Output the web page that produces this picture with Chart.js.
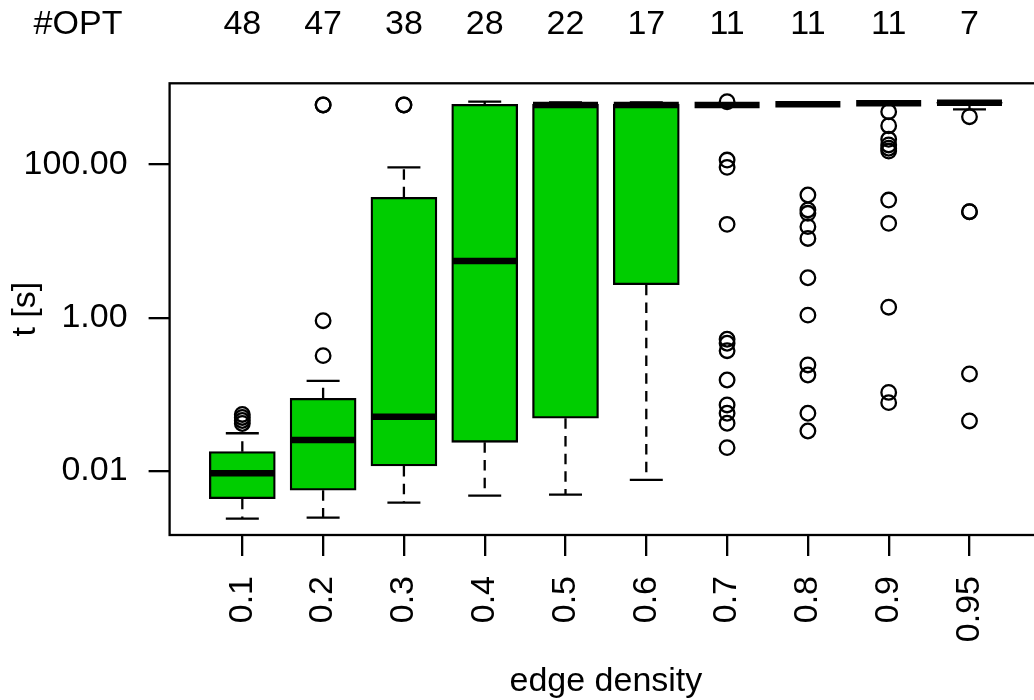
<!DOCTYPE html>
<html><head><meta charset="utf-8">
<script src="https://cdn.jsdelivr.net/npm/chart.js@4.4.0/dist/chart.umd.min.js"></script>
<style>
html,body{margin:0;padding:0;background:#fff;overflow:hidden;width:1034px;height:700px}
#wrap{position:absolute;left:0;top:0;width:1100px;height:700px}
</style>
</head><body><div id="wrap"><canvas id="c" width="1100" height="700"></canvas></div>
<script>
const categories = ['0.1','0.2','0.3','0.4','0.5','0.6','0.7','0.8','0.9','0.95'];
const optCounts = [48,47,38,28,22,17,11,11,11,7];
const lowerWhisker = [0.0024, 0.00247, 0.00387, 0.00478, 0.00492, 0.00766, 595, 607, 625, 521];
const q1 =           [0.00436, 0.00562, 0.01165, 0.0237, 0.0488, 2.69, 595, 607, 625, 630];
const median =       [0.00936, 0.0254, 0.0512, 5.49, 595, 595, 595, 607, 625, 637];
const q3 =           [0.0179, 0.0889, 37.1, 607, 610, 610, 595, 607, 625, 640];
const upperWhisker = [0.0311, 0.1496, 91.4, 656, 640, 640, 595, 607, 625, 645];
const outliers = [
  [0.0547, 0.050, 0.0456, 0.0417],
  [595, 595, 0.914, 0.32],
  [595, 595],
  [],
  [],
  [],
  [656, 113.8, 91.4, 16.5, 0.523, 0.464, 0.371, 0.154, 0.0728, 0.0567, 0.042, 0.0202],
  [39.8, 25.4, 23.0, 15.4, 10.8, 3.32, 1.08, 0.242, 0.179, 0.0567, 0.0333],
  [485, 319, 212, 179, 162, 149, 34.2, 17.0, 1.37, 0.106, 0.078],
  [418, 24.1, 24.1, 0.1845, 0.045]
];
const yTickValues = [0.01, 1, 100];

const FONT = '"Liberation Sans", Arial, Helvetica, sans-serif';
const LW = 2.3;
const pos = categories.map((_, i) => i + 1);
const TARGET_RIGHT = 1042.2;

const boxData = pos.map((x, i) => ({x, y: [q1[i], q3[i]]}));
const medianData = pos.map((x, i) => ({x, y: median[i]}));
const stapleData = [];
pos.forEach((x, i) => { stapleData.push({x, y: upperWhisker[i]}); stapleData.push({x, y: lowerWhisker[i]}); });
const whiskerData = [];
pos.forEach((x, i) => {
  whiskerData.push({x, y: q3[i]}, {x, y: upperWhisker[i]}, {x, y: null});
  whiskerData.push({x, y: q1[i]}, {x, y: lowerWhisker[i]}, {x, y: null});
});
const outlierData = [];
outliers.forEach((arr, i) => arr.forEach(v => outlierData.push({x: pos[i], y: v})));

const deco = {
  id: 'deco',
  afterDraw(chart) {
    const {ctx, chartArea: a, scales: {x}} = chart;
    ctx.save();
    ctx.strokeStyle = '#000'; ctx.lineWidth = LW;
    ctx.strokeRect(a.left, a.top, a.right - a.left, a.bottom - a.top);
    ctx.fillStyle = '#000';
    ctx.font = '34px ' + FONT;
    ctx.textAlign = 'center'; ctx.textBaseline = 'alphabetic';
    ctx.fillText('#OPT', 78, 33.5);
    optCounts.forEach((n, i) => ctx.fillText(String(n), x.getPixelForValue(pos[i]), 33.5));
    ctx.fillText('edge density', (a.left + a.right) / 2, 691);
    ctx.translate(35, (a.top + a.bottom) / 2);
    ctx.rotate(-Math.PI / 2);
    ctx.fillText('t [s]', 0, 0);
    ctx.restore();
  }
};

const chart = new Chart(document.getElementById('c'), {
  type: 'bar',
  data: {
    datasets: [
      {type: 'scatter', data: medianData, pointStyle: 'line', pointRadius: 32.5, pointHoverRadius: 32.5,
       borderColor: '#000', pointBorderWidth: 6.5, borderWidth: 6.5, order: 0},
      {type: 'scatter', data: stapleData, pointStyle: 'line', pointRadius: 16.5, pointHoverRadius: 16.5,
       borderColor: '#000', pointBorderWidth: LW, borderWidth: LW, order: 1},
      {type: 'scatter', data: outlierData, pointStyle: 'circle', pointRadius: 7.3, pointHoverRadius: 7.3,
       borderColor: '#000', backgroundColor: 'rgba(0,0,0,0)', pointBorderWidth: 2.3, borderWidth: 2.3, order: 2},
      {type: 'bar', data: boxData, backgroundColor: '#00CD00', borderColor: '#000', borderWidth: LW,
       borderSkipped: false, barThickness: 66, order: 3},
      {type: 'line', data: whiskerData, borderColor: '#000', borderWidth: LW, borderDash: [10.5, 7.2],
       pointRadius: 0, spanGaps: false, fill: false, order: 4}
    ]
  },
  options: {
    responsive: false,
    devicePixelRatio: 1,
    animation: false,
    layout: {padding: {left: 0, top: 83.3, right: 1100 - TARGET_RIGHT, bottom: 0}},
    plugins: {legend: {display: false}, tooltip: {enabled: false}},
    scales: {
      x: {
        type: 'linear', min: 0.1, max: 10.9, offset: false,
        grid: {display: true, offset: false, drawOnChartArea: false, drawTicks: true, tickLength: 21, color: '#000', lineWidth: LW},
        border: {display: false},
        afterBuildTicks: s => { s.ticks = pos.map(v => ({value: v})); },
        afterFit: s => { s.height = 700 - 535; s.paddingLeft = 0; s.paddingRight = 0; },
        ticks: {autoSkip: false, minRotation: 90, maxRotation: 90, padding: 20, color: '#000',
                font: {size: 34, family: FONT}, callback: (v, i) => categories[i]}
      },
      y: {
        type: 'logarithmic', min: 0.001465, max: 1140,
        grid: {display: true, drawOnChartArea: false, drawTicks: true, tickLength: 21, color: '#000', lineWidth: LW},
        border: {display: false},
        afterBuildTicks: s => { s.ticks = yTickValues.map(v => ({value: v})); },
        afterFit: s => { s.width = 169.6; s.paddingTop = 0; s.paddingBottom = 0; },
        ticks: {autoSkip: false, padding: 21, color: '#000', font: {size: 34, family: FONT},
                callback: v => Number(v).toFixed(2)}
      }
    }
  },
  plugins: [deco]
});
for (let k = 0; k < 3; k++) {
  const diff = TARGET_RIGHT - chart.chartArea.right;
  if (Math.abs(diff) < 0.3) break;
  chart.options.layout.padding.right -= diff;
  chart.update();
}
</script>
</body></html>
